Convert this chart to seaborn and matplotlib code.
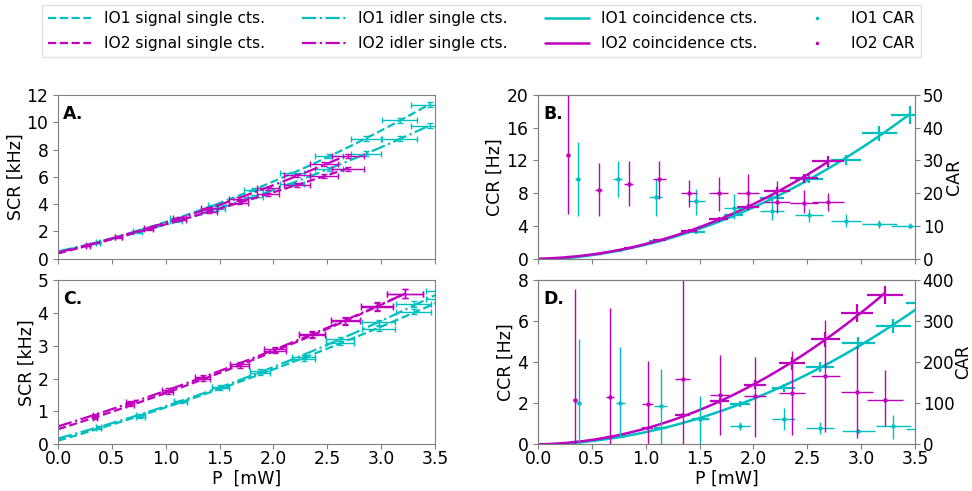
import numpy as np
import matplotlib.pyplot as plt
from matplotlib.lines import Line2D
import seaborn as sns

# ---- data set 1 (panels A and B) ----
p1_ab = [0.368, 0.739, 1.095, 1.469, 1.815, 2.17, 2.517, 2.857, 3.17, 3.45]
p1_ab_err = [0.02, 0.04, 0.06, 0.08, 0.09, 0.11, 0.13, 0.14, 0.16, 0.17]
sig1_ab = [1.2, 2.05, 2.95, 3.95, 5.05, 6.25, 7.5, 8.8, 10.15, 11.3]
idl1_ab = [1.15, 1.95, 2.75, 3.6, 4.55, 5.45, 6.6, 7.7, 8.8, 9.75]
s1_ab_err = [0.03, 0.05, 0.06, 0.08, 0.1, 0.12, 0.14, 0.16, 0.18, 0.2]
ccr1_ab = [0.2, 0.98, 2.1, 3.2, 5.3, 7.4, 9.75, 12.1, 15.3, 17.5]
ccr1_ab_err = [0.05, 0.1, 0.15, 0.2, 0.3, 0.4, 0.5, 0.6, 0.9, 1.1]
car1_ab = [24.4, 24.2, 18.9, 17.5, 15.5, 14.5, 13.2, 11.4, 10.7, 10.1]
car1_ab_lo = [12.9, 18.9, 12.9, 13.2, 12.1, 11.9, 11.1, 9.6, 9.4, 9.2]
car1_ab_hi = [35.7, 29.8, 24.2, 21.4, 19.6, 18.6, 15.0, 13.5, 11.7, 10.9]

p2_ab = [0.278, 0.563, 0.841, 1.125, 1.40, 1.676, 1.95, 2.22, 2.465, 2.69]
p2_ab_err = [0.015, 0.03, 0.045, 0.06, 0.075, 0.09, 0.1, 0.12, 0.13, 0.15]
sig2_ab = [0.95, 1.55, 2.15, 2.8, 3.45, 4.1, 4.7, 5.4, 6.05, 6.6]
idl2_ab = [1.0, 1.6, 2.25, 3.0, 3.7, 4.4, 5.15, 6.1, 6.95, 7.55]
s2_ab_err = [0.03, 0.04, 0.05, 0.06, 0.08, 0.09, 0.1, 0.12, 0.14, 0.15]
ccr2_ab = [0.2, 0.6, 1.25, 2.25, 3.35, 4.78, 6.33, 8.25, 9.8, 11.9]
ccr2_ab_err = [0.05, 0.08, 0.12, 0.18, 0.25, 0.3, 0.4, 0.5, 0.6, 0.7]
car2_ab = [31.8, 21.1, 22.8, 24.2, 19.9, 19.9, 20.1, 17.2, 17.0, 17.2]
car2_ab_lo = [13.5, 12.9, 16.0, 18.1, 15.8, 14.5, 15.0, 14.0, 14.0, 14.5]
car2_ab_hi = [60.0, 29.1, 29.8, 29.8, 24.0, 25.0, 26.0, 23.7, 21.0, 20.0]

# ---- data set 2 (panels C and D) ----
p1_cd = [0.377, 0.764, 1.14, 1.506, 1.875, 2.28, 2.62, 2.975, 3.30, 3.60]
p1_cd_err = [0.02, 0.04, 0.06, 0.08, 0.09, 0.11, 0.13, 0.15, 0.16, 0.18]
sig1_cd = [0.48, 0.84, 1.28, 1.7, 2.16, 2.6, 3.08, 3.53, 4.05, 4.43]
idl1_cd = [0.52, 0.88, 1.33, 1.75, 2.23, 2.67, 3.2, 3.72, 4.28, 4.69]
s1_cd_err = [0.02, 0.03, 0.03, 0.04, 0.05, 0.05, 0.06, 0.07, 0.08, 0.08]
ccr1_cd = [0.08, 0.36, 0.77, 1.23, 1.97, 2.74, 3.78, 4.93, 5.78, 6.9]
ccr1_cd_err = [0.03, 0.05, 0.08, 0.1, 0.15, 0.2, 0.25, 0.3, 0.35, 0.4]
car1_cd = [100, 100, 92, 62, 44, 61, 39, 32, 44, 36]
car1_cd_lo = [0, 18, 0, 0, 35, 35, 25, 26, 12, 28]
car1_cd_hi = [256, 238, 184, 117, 53, 88, 55, 37, 71, 44]

p2_cd = [0.346, 0.67, 1.017, 1.345, 1.685, 2.016, 2.356, 2.665, 2.96, 3.22]
p2_cd_err = [0.02, 0.035, 0.05, 0.07, 0.085, 0.1, 0.12, 0.135, 0.15, 0.165]
sig2_cd = [0.8, 1.2, 1.58, 1.98, 2.4, 2.85, 3.32, 3.75, 4.2, 4.6]
idl2_cd = [0.88, 1.28, 1.65, 2.05, 2.45, 2.9, 3.35, 3.78, 4.22, 4.6]
s2_cd_err = [0.03, 0.04, 0.05, 0.06, 0.07, 0.08, 0.09, 0.1, 0.12, 0.15]
ccr2_cd = [0.1, 0.35, 0.77, 1.40, 2.09, 2.91, 3.94, 5.12, 6.41, 7.29]
ccr2_cd_err = [0.03, 0.05, 0.08, 0.1, 0.15, 0.22, 0.3, 0.38, 0.45, 0.45]
car2_cd = [108, 115, 99, 159, 119, 117, 125, 166, 126, 108]
car2_cd_lo = [0, 0, 0, 0, 21, 18, 21, 29, 14, 43]
car2_cd_hi = [380, 332, 203, 420, 217, 214, 228, 304, 240, 182]

C1 = '#00bfbf'
C2 = '#bf00bf'

sns.set_style('ticks', {'axes.edgecolor': 'gray', 'text.color': 'black',
                        'axes.labelcolor': 'black', 'xtick.color': 'gray',
                        'ytick.color': 'gray'})
plt.rcParams['font.size'] = 12.5
plt.rcParams['xtick.labelsize'] = 12.3
plt.rcParams['ytick.labelsize'] = 12.3
plt.rcParams['xtick.labelcolor'] = 'black'
plt.rcParams['ytick.labelcolor'] = 'black'
plt.rcParams['xtick.major.pad'] = 1


def singles(ax, p, perr, s, serr, ls, color):
    coef = np.polyfit(p, s, 2)
    xx = np.linspace(0, max(p), 100)
    sns.lineplot(x=xx, y=np.polyval(coef, xx), ax=ax, color=color, linestyle=ls, lw=1.6)
    ax.errorbar(p, s, xerr=perr, yerr=serr, fmt='none', ecolor=color, elinewidth=1, capsize=2)


def coinc(ax, p, perr, c, cerr, color):
    coef = np.polyfit(p, c, 2)
    xx = np.linspace(0, max(p), 100)
    sns.lineplot(x=xx, y=np.polyval(coef, xx), ax=ax, color=color, lw=1.8)
    ax.errorbar(p, c, xerr=perr, yerr=cerr, fmt='none', ecolor=color, elinewidth=1.6)


def car(ax, p, perr, v, lo, hi, color):
    v = np.array(v, dtype=float)
    yerr = [v - np.array(lo), np.array(hi) - v]
    ax.errorbar(p, v, xerr=perr, yerr=yerr, fmt='none', ecolor=color, elinewidth=1)
    sns.scatterplot(x=p, y=v, ax=ax, color=color, s=10, linewidth=0)


fig, axs = plt.subplots(2, 2, figsize=(9.72, 4.91), dpi=100)
fig.subplots_adjust(left=0.0597, right=0.9414, top=0.8065, bottom=0.0957,
                    wspace=0.273, hspace=0.134)
axA, axB = axs[0]
axC, axD = axs[1]

# A
singles(axA, p1_ab, p1_ab_err, sig1_ab, s1_ab_err, '--', C1)
singles(axA, p1_ab, p1_ab_err, idl1_ab, s1_ab_err, '-.', C1)
singles(axA, p2_ab, p2_ab_err, sig2_ab, s2_ab_err, '--', C2)
singles(axA, p2_ab, p2_ab_err, idl2_ab, s2_ab_err, '-.', C2)
axA.set_ylim(0, 12)
axA.set_yticks(range(0, 13, 2))

# C
singles(axC, p1_cd, p1_cd_err, sig1_cd, s1_cd_err, '--', C1)
singles(axC, p1_cd, p1_cd_err, idl1_cd, s1_cd_err, '-.', C1)
singles(axC, p2_cd, p2_cd_err, sig2_cd, s2_cd_err, '--', C2)
singles(axC, p2_cd, p2_cd_err, idl2_cd, s2_cd_err, '-.', C2)
axC.set_ylim(0, 5)
axC.set_yticks(range(0, 6))

# B
coinc(axB, p1_ab, p1_ab_err, ccr1_ab, ccr1_ab_err, C1)
coinc(axB, p2_ab, p2_ab_err, ccr2_ab, ccr2_ab_err, C2)
axB.set_ylim(0, 20)
axB.set_yticks(range(0, 21, 4))
axB2 = axB.twinx()
car(axB2, p1_ab, p1_ab_err, car1_ab, car1_ab_lo, car1_ab_hi, C1)
car(axB2, p2_ab, p2_ab_err, car2_ab, car2_ab_lo, car2_ab_hi, C2)
axB2.set_ylim(0, 50)
axB2.set_yticks(range(0, 51, 10))

# D
coinc(axD, p1_cd, p1_cd_err, ccr1_cd, ccr1_cd_err, C1)
coinc(axD, p2_cd, p2_cd_err, ccr2_cd, ccr2_cd_err, C2)
axD.set_ylim(0, 8)
axD.set_yticks(range(0, 9, 2))
axD2 = axD.twinx()
car(axD2, p1_cd, p1_cd_err, car1_cd, car1_cd_lo, car1_cd_hi, C1)
car(axD2, p2_cd, p2_cd_err, car2_cd, car2_cd_lo, car2_cd_hi, C2)
axD2.set_ylim(0, 400)
axD2.set_yticks(range(0, 401, 100))

for ax in [axB2, axD2]:
    ax.tick_params(axis='y', pad=2, labelsize=12)

ticks = np.arange(0, 3.51, 0.5)
for ax in [axA, axB, axC, axD]:
    ax.set_xlim(0, 3.5)
    ax.set_xticks(ticks)
for ax in [axA, axB]:
    ax.set_xticklabels([])
axC.set_xticklabels([f'{v:.1f}' for v in ticks])
axD.set_xticklabels([f'{v:.1f}' for v in ticks])

axA.set_ylabel('SCR [kHz]', labelpad=1)
axC.set_ylabel('SCR [kHz]', labelpad=1)
axB.set_ylabel('CCR [Hz]', labelpad=2)
axD.set_ylabel('CCR [Hz]', labelpad=2)
axB2.set_ylabel('CAR', labelpad=1)
axD2.set_ylabel('CAR', labelpad=0, fontsize=12)
axA.set_xlabel('')
axB.set_xlabel('')
axC.set_xlabel('P  [mW]', labelpad=1)
axD.set_xlabel('P [mW]', labelpad=1)

for ax, lab in zip([axA, axB, axC, axD], ['A.', 'B.', 'C.', 'D.']):
    ax.text(0.013, 0.94, lab, transform=ax.transAxes, fontweight='bold',
            va='top', ha='left', fontsize=12.5)

handles = [
    Line2D([], [], color=C1, ls='--', lw=1.6),
    Line2D([], [], color=C2, ls='--', lw=1.6),
    Line2D([], [], color=C1, ls='-.', lw=1.6),
    Line2D([], [], color=C2, ls='-.', lw=1.6),
    Line2D([], [], color=C1, ls='-', lw=1.8),
    Line2D([], [], color=C2, ls='-', lw=1.8),
    Line2D([], [], color=C1, ls='none', marker='.', ms=3),
    Line2D([], [], color=C2, ls='none', marker='.', ms=3),
]
labels = ['IO1 signal single cts.', 'IO2 signal single cts.',
          'IO1 idler single cts.', 'IO2 idler single cts.',
          'IO1 coincidence cts.', 'IO2 coincidence cts.',
          'IO1 CAR', 'IO2 CAR']
fig.legend(handles, labels, loc='upper center', bbox_to_anchor=(0.495, 0.99), ncol=4,
           fontsize=11.2, handlelength=2.8, handletextpad=0.8, borderaxespad=0,
           columnspacing=2.4, labelspacing=0.65, fancybox=False, edgecolor='0.85')

fig.savefig('out.png', dpi=100)
